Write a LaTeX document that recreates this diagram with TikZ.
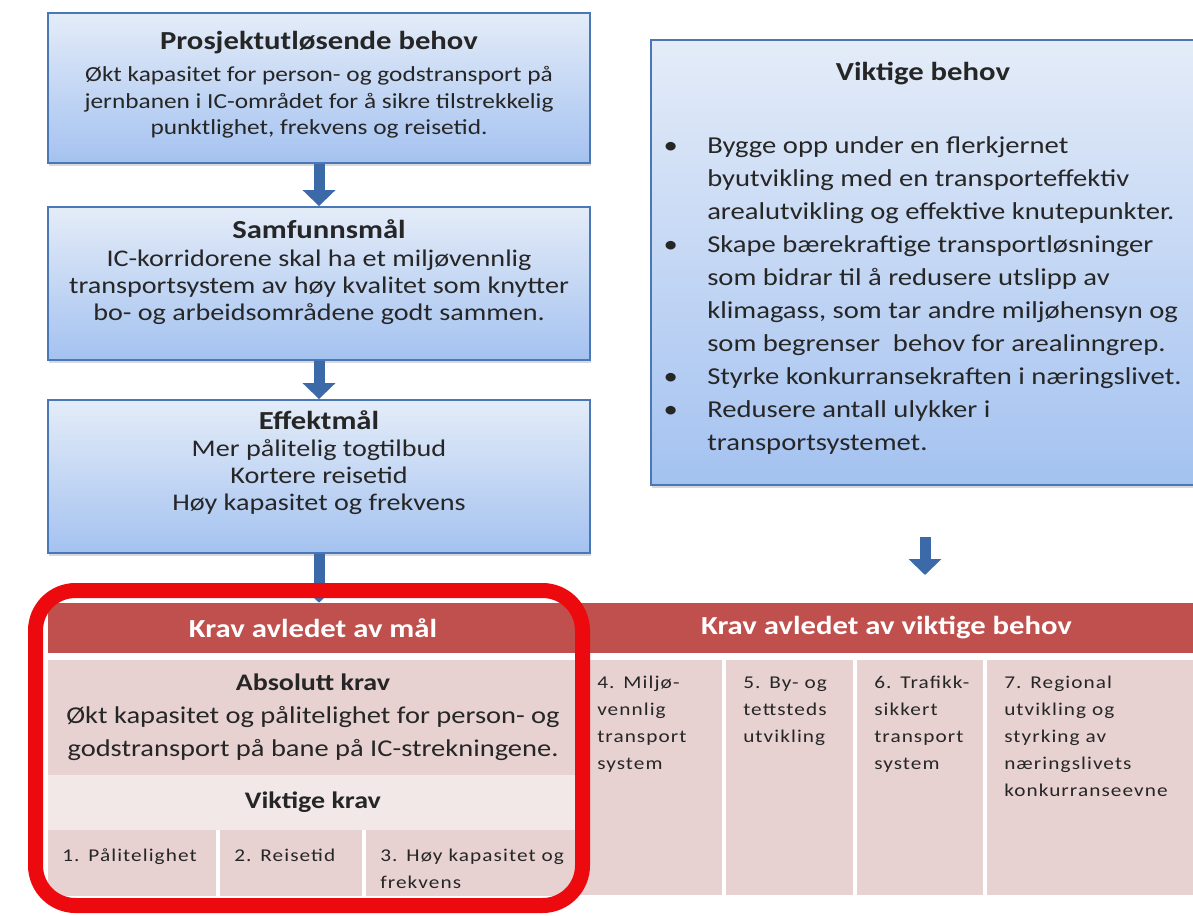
\documentclass[tikz,border=0pt]{standalone}
\usepackage{fontspec}
\setmainfont{Carlito}[FakeStretch=1.18]
\newfontfamily\cellfont{Carlito}[FakeStretch=1.18, LetterSpace=6]
\usepackage{xcolor}
\usepackage{tikz}
\usetikzlibrary{arrows.meta, positioning, calc, shadows}
\definecolor{ICBlueTop}{RGB}{228, 236, 248}
\definecolor{ICBlueBottom}{RGB}{164, 194, 240}
\definecolor{ICBlueEdge}{RGB}{74, 120, 182}
\definecolor{ICArrow}{RGB}{60, 106, 168}
\definecolor{ICRed}{RGB}{192, 80, 77}
\definecolor{ICPink}{RGB}{231, 209, 209}
\definecolor{ICPale}{RGB}{243, 232, 232}
\definecolor{ICFrame}{RGB}{236, 10, 14}
\definecolor{ICText}{RGB}{38, 38, 38}

\tikzset{
  malboks/.style={draw=ICBlueEdge, line width=1.4pt, top color=ICBlueTop, bottom color=ICBlueBottom,
    drop shadow={shadow xshift=1pt, shadow yshift=-2.5pt, opacity=0.3}, minimum width=406.5pt, inner sep=0pt},
  maltekst/.style={align=center, text=ICText, inner sep=0pt},
  pil/.style={draw=ICArrow, line width=8.25pt, -{Triangle[width=24pt, length=12pt]}},
  kravhode/.style={fill=ICRed, text=white, minimum height=37.5pt, inner sep=0pt,
    font=\fontsize{19.5}{22}\selectfont\bfseries},
  kravfelt/.style={fill=ICPink, minimum width=397.5pt, inner sep=0pt, align=center, text=ICText},
  kravcelle/.style={fill=ICPink, anchor=north west, align=left, inner xsep=10.5pt, inner ysep=0pt,
    text=ICText, font=\cellfont\fontsize{13.5}{20.25}\selectfont},
  ramme/.style={draw=ICFrame, line width=11.25pt, rounded corners=30pt,
    minimum width=410.25pt, minimum height=236.25pt}
}

\begin{document}
\begin{tikzpicture}[x=0.75pt, y=-0.75pt]
  \useasboundingbox (0,0) rectangle (1193,915);
  \clip (0,0) rectangle (1193,915);

  % maalkjeden
  \node[malboks, minimum height=112.5pt] (behov) at (319,88) {};
  \node[maltekst, font=\fontsize{16.1}{19.9}\selectfont] (behovtekst) at (319,85)
    {{\fontsize{19.5}{22}\selectfont\bfseries Prosjektutløsende behov}\\[4pt]
     Økt kapasitet for person- og godstransport på\\
     jernbanen i IC-området for å sikre tilstrekkelig\\
     punktlighet, frekvens og reisetid.};

  \node[malboks, minimum height=114.75pt] (samfunn) at (319,283.5) {};
  \node[maltekst, font=\fontsize{17.9}{20.25}\selectfont] (samfunntekst) at (319,272)
    {{\fontsize{19.5}{22}\selectfont\bfseries Samfunnsmål}\\[1pt]
     IC-korridorene skal ha et miljøvennlig\\
     transportsystem av høy kvalitet som knytter\\
     bo- og arbeidsområdene godt sammen.};

  \node[malboks, minimum height=114.75pt] (effekt) at (319,476.5) {};
  \node[maltekst, font=\fontsize{17.9}{20.25}\selectfont] (effekttekst) at (319,463)
    {{\fontsize{19.5}{22}\selectfont\bfseries Effektmål}\\
     Mer pålitelig togtilbud\\
     Kortere reisetid\\
     Høy kapasitet og frekvens};

  \node[malboks, minimum width=411.75pt, minimum height=333.75pt] (viktig) at (925.5,262.5) {};
  \node[maltekst, font=\fontsize{19.5}{22}\selectfont\bfseries] (viktigtittel) at (923,74) {Viktige behov};
  \node[maltekst, align=left, anchor=north west, font=\fontsize{18.2}{24.75}\selectfont] (viktigliste) at (707,136)
    {\llap{\textbullet\hspace{22pt}}Bygge opp under en flerkjernet\\
     byutvikling med en transporteffektiv\\
     arealutvikling og effektive knutepunkter.\\
     \llap{\textbullet\hspace{22pt}}Skape bærekraftige transportløsninger\\
     som bidrar til å redusere utslipp av\\
     klimagass, som tar andre miljøhensyn og\\
     som begrenser~ behov for arealinngrep.\\
     \llap{\textbullet\hspace{22pt}}Styrke konkurransekraften i næringslivet.\\
     \llap{\textbullet\hspace{22pt}}Redusere antall ulykker i\\
     transportsystemet.};

  % kravtabellene
  \node[kravhode, minimum width=397.5pt] (kravmaal) at (313,628) {Krav avledet av mål};
  \node[kravhode, minimum width=459.75pt] (kravbehov) at (886.5,628) {Krav avledet av viktige behov};

  \node[kravfelt, minimum height=86.25pt, font=\fontsize{18.1}{24.75}\selectfont] (absolutt) at (313,717.5)
    {{\fontsize{17.8}{22}\selectfont\bfseries Absolutt krav}\\
     Økt kapasitet og pålitelighet for person- og\\
     godstransport på bane på IC-strekningene.};
  \node[kravfelt, fill=ICPale, minimum height=41.25pt, font=\fontsize{17.8}{22}\selectfont\bfseries] (viktigekrav) at (313,802.5)
    {Viktige krav};

  \node[kravcelle, text width=105pt, text height=23.25pt, text depth=26.25pt] (nr1) at (48,830) {1. Pålitelighet};
  \node[kravcelle, text width=85.5pt, text height=23.25pt, text depth=26.25pt] (nr2) at (220,830) {2. Reisetid};
  \node[kravcelle, text width=138pt, text height=23.25pt, text depth=26.25pt] (nr3) at (366,830)
    {\mbox{3. Høy kapasitet og}\\frekvens};

  \node[kravcelle, inner xsep=12.75pt, text width=81pt, text height=21pt, text depth=155.25pt] (miljo) at (580,660)
    {\mbox{4. Miljø-}\\vennlig\\transport\\system};
  \node[kravcelle, inner xsep=12.75pt, text width=69.75pt, text height=21pt, text depth=155.25pt] (tettsted) at (726,660)
    {\mbox{5. By- og}\\tettsteds\\utvikling};
  \node[kravcelle, inner xsep=12.75pt, text width=69pt, text height=21pt, text depth=155.25pt] (trafikk) at (857,660)
    {\mbox{6. Trafikk-}\\sikkert\\transport\\system};
  \node[kravcelle, inner xsep=12.75pt, text width=129pt, text height=21pt, text depth=155.25pt] (regional) at (987,660)
    {7. Regional\\utvikling og\\styrking av\\næringslivets\\konkurranseevne};

  % piler
  \draw[pil] (behov.south) -- (samfunn.north);
  \draw[pil] (samfunn.south) -- (effekt.north);
  \draw[pil] (effekt.south) -- (effekt.south |- kravmaal.north);
  \coordinate (pilstart) at (925,537);
  \coordinate (pilslutt) at (925,575);
  \draw[pil] (pilstart) -- (pilslutt);

  \node[ramme] (ramme) at (309,748) {};
\end{tikzpicture}
\end{document}
